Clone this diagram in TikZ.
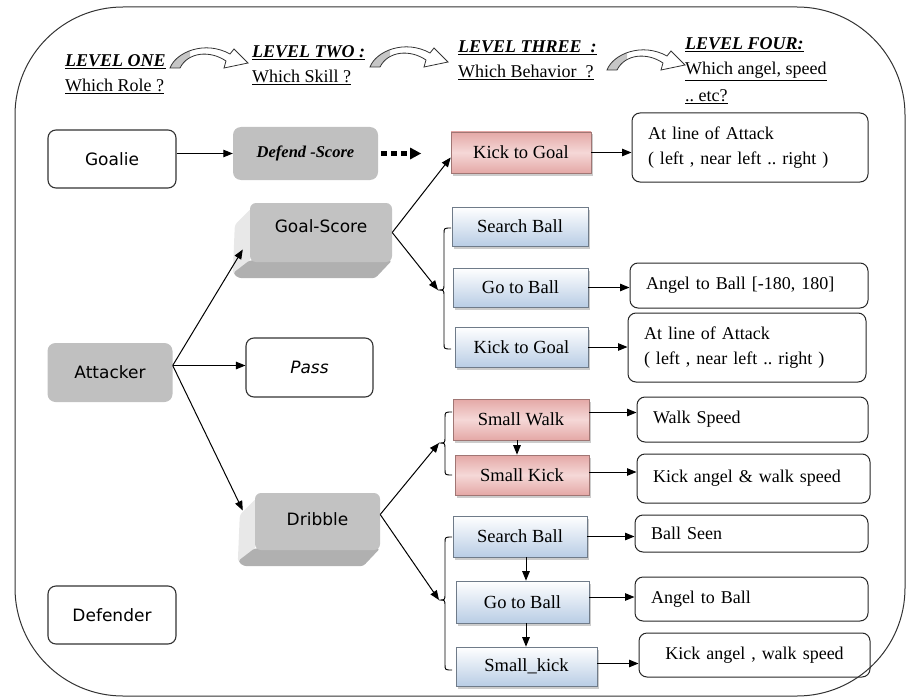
\documentclass[tikz,border=0pt]{standalone}
\usepackage{fontspec}
\setmainfont{Liberation Serif}
\newfontfamily\sansf{DejaVu Sans}
\usetikzlibrary{arrows.meta,shadows,calc}
\pgfdeclarelayer{bg}
\pgfsetlayers{bg,main}
\definecolor{boxgrey}{HTML}{C0C0C0}
\definecolor{blueb}{HTML}{B9CDE5}
\definecolor{redb}{HTML}{E4A8A6}
\definecolor{redm}{HTML}{F5D8D7}
\definecolor{framec}{HTML}{333333}
\newcommand\depthfaces[1]{%
\begin{pgfonlayer}{bg}
 \fill[gray!18, rounded corners=3pt] ($(#1.north west)+(2,5)$) -- ($(#1.north west)+(-15,22)$) -- ($(#1.south west)+(-17,12)$) -- ($(#1.south west)+(0,0)$) -- cycle;
 \fill[gray!62, rounded corners=3pt] ($(#1.south west)+(0,-2)$) -- ($(#1.south east)+(0,-2)$) -- ($(#1.south east)+(-17,16)$) -- ($(#1.south west)+(-11,16)$) -- ($(#1.south west)+(-17,11)$) -- cycle;
\end{pgfonlayer}}
\newcommand\brc[5]{%
 \draw[line width=0.9pt] (#2+7,#3) .. controls (#2,#3) .. (#2,#3+6) -- (#2,#4-6) .. controls (#2,#4) .. (#2-6,#4) coordinate (#1) .. controls (#2,#4) .. (#2,#4+6) -- (#2,#5-6) .. controls (#2,#5) .. (#2+7,#5);}
\tikzset{
 arr/.style={-{Triangle[length=9.5pt,width=7.5pt]}, line width=1pt},
 rolebox/.style={draw=black!80, line width=1.1pt, rounded corners=8pt, minimum width=128pt, minimum height=58pt, font=\sansf\fontsize{17}{20}\selectfont, inner sep=0pt},
 greybox/.style={fill=boxgrey, rounded corners=8pt, inner sep=0pt},
 l3/.style={minimum height=40pt, inner sep=0pt, font=\fontsize{18.5}{22}\selectfont, line width=0.6pt, drop shadow={shadow xshift=1.5pt, shadow yshift=-2.5pt, fill=black!40}},
 l3b/.style={l3, draw=blueb!60!black, top color=white, bottom color=blueb},
 l3r/.style={l3, draw=redb!70!black, top color=redb, bottom color=redb, middle color=redm},
 l4/.style={draw=black!85, line width=1pt, rounded corners=8pt, inner xsep=16pt, inner ysep=0pt, align=left, font=\fontsize{18}{25}\selectfont},
 hd/.style={anchor=base west, inner sep=0pt, font=\fontsize{18}{22}\selectfont\bfseries\itshape},
 hq/.style={anchor=base west, inner sep=0pt, font=\fontsize{18}{22}\selectfont},
 curvarrow/.pic={
  \begin{scope}
   \clip (-3,0) rectangle (20,30);
   \fill[gray!45] (0,22) .. controls (6,6) and (35,-6) .. (60,8) -- (56,15) .. controls (40,4) and (18,6) .. (10,22) -- cycle;
  \end{scope}
  \draw[line width=0.8pt, black!80] (0,22) .. controls (6,6) and (35,-6) .. (60,8) -- (64,3) -- (78,17) -- (54,22) -- (56,15) .. controls (40,4) and (18,6) .. (10,22) -- cycle;
 }
}
\begin{document}
\begin{tikzpicture}[x=1pt,y=-1pt]
\useasboundingbox (0,0) rectangle (907,698);
\draw[framec, line width=1pt, rounded corners=108pt] (15,7) rectangle (905,696);

% headers
\node[hd] (h1) at (65,67) {\underline{LEVEL ONE}};
\node[hq] (q1) at (65,92) {\underline{Which Role ?}};
\node[hd] (h2) at (252,58) {\underline{LEVEL TWO :}};
\node[hq] (q2) at (252,83) {\underline{Which Skill ?}};
\node[hd] (h3) at (458,53) {\underline{LEVEL THREE\ \ :}};
\node[hq] (q3) at (458,78) {\underline{Which Behavior\ \ ?}};
\node[hd] (h4) at (685,50) {\underline{LEVEL FOUR:}};
\node[hq] (q4) at (685,75) {\underline{Which angel, speed}};
\node[hq] (q5) at (685,102) {\underline{..\ etc?}};
\pic at (170,46) {curvarrow};
\pic at (370,45) {curvarrow};
\pic at (607,48) {curvarrow};

% level one
\node[rolebox] (goalie) at (112,159) {Goalie};
\node[greybox, minimum width=125pt, minimum height=59pt, font=\sansf\fontsize{17}{20}\selectfont] (att) at (110,372.5) {Attacker};
\node[rolebox] (def) at (112,615) {Defender};

% level two
\node[greybox, minimum width=145pt, minimum height=53pt, font=\fontsize{16.5}{20}\selectfont\bfseries\itshape] (ds) at (305.5,153.5) {Defend -Score};
\node[greybox, rounded corners=6pt, fill=gray!48, minimum width=142pt, minimum height=59pt, font=\sansf\fontsize{17}{20}\selectfont] (gs) at (321,232.5) {\raisebox{12pt}{Goal-Score}};
\depthfaces{gs}
\node[rolebox, minimum width=127pt, minimum height=59pt, font=\sansf\itshape\fontsize{17}{20}\selectfont] (pass) at (309.5,367.5) {Pass};
\node[greybox, rounded corners=6pt, fill=gray!48, minimum width=125pt, minimum height=57pt, font=\sansf\fontsize{17}{20}\selectfont] (dr) at (317.5,521.5) {\raisebox{4pt}{Dribble}};
\depthfaces{dr}

% level three
\node[l3r, minimum width=140pt, minimum height=41pt] (ktg1) at (521,152.5) {Kick to Goal};
\node[l3b, minimum width=136pt, minimum height=39pt] (sb1) at (520,226.5) {Search Ball};
\node[l3b, minimum width=135pt, minimum height=39pt] (gb1) at (520.5,287.5) {Go to Ball};
\node[l3b, minimum width=133pt, minimum height=40pt] (ktg2) at (521.5,347) {Kick to Goal};
\node[l3r, minimum width=136pt, minimum height=41pt] (sw) at (521,419.5) {Small Walk};
\node[l3r, minimum width=134pt, minimum height=40pt] (sk) at (522,475) {Small Kick};
\node[l3b, minimum width=134pt, minimum height=41pt] (sb2) at (520,536.5) {Search Ball};
\node[l3b, minimum width=133pt, minimum height=42pt] (gb2) at (522.5,602) {Go to Ball};
\node[l3b, minimum width=141pt, minimum height=39pt] (smk) at (526.5,666.5) {Small\_kick};

% level four
\node[l4, text width=204pt, minimum height=69pt] (al1) at (750,147.5) {At line of Attack\\( left , near left ..\ right )};
\node[l4, text width=206pt, minimum height=45pt] (atb1) at (749,285.5) {Angel to Ball [-180, 180]};
\node[l4, text width=206pt, minimum height=69pt] (al2) at (747,347.5) {At line of Attack\\( left , near left ..\ right )};
\node[l4, text width=199pt, minimum height=45pt] (ws) at (752.5,419.5) {Walk Speed};
\node[l4, text width=201pt, minimum height=49pt] (kaw) at (753.5,478.5) {Kick angel \& walk speed};
\node[l4, text width=201pt, minimum height=37pt] (bs) at (751.5,533.5) {Ball Seen};
\node[l4, text width=201pt, minimum height=44pt] (atb2) at (751.5,599) {Angel to Ball};
\node[l4, text width=199pt, minimum height=44pt, align=center] (kaw2) at (754.5,655) {Kick angel , walk speed};

% braces
\brc{br1}{444}{228}{290}{349}
\brc{br2}{445}{412}{443}{475}
\brc{br3}{445}{537}{600}{670}

% connectors
\draw[arr] (goalie.east |- ds.west) -- (ds.west);
\coordinate (dotend) at (421,153.5);
\draw[line width=5pt, dash pattern=on 6pt off 4pt] ([xshift=3pt]ds.east) -- (411,153.5);
\fill (410,147.5) -- (dotend) -- (410,159.5) -- cycle;
\coordinate (as) at ([yshift=7pt]att.east);
\draw[arr] (as) -- ($(gs.west)+(-7,17)$);
\draw[arr] (as) -- (as -| pass.west);
\draw[arr] (as) -- ($(dr.west)+(-12,-11)$);
\draw[arr] (gs.east) -- ([yshift=-5pt]ktg1.west);
\draw[arr] (gs.east) -- (br1);
\draw[arr] ([yshift=7pt]dr.east) -- (br2);
\draw[arr] ([yshift=7pt]dr.east) -- (br3);
\draw[arr] (ktg1.east) -- (ktg1.east -| al1.west);
\draw[arr] (gb1.east) -- (gb1.east -| atb1.west);
\draw[arr] (ktg2.east) -- (ktg2.east -| al2.west);
\draw[arr] ([yshift=7pt]sw.east) -- ([yshift=7pt]sw.east -| ws.west);
\draw[arr] ([yshift=3pt]sk.east) -- ([yshift=3pt]sk.east -| kaw.west);
\draw[arr] (sb2.east) -- (sb2.east -| bs.west);
\draw[arr] ([yshift=5pt]gb2.east) -- ([yshift=5pt]gb2.east -| atb2.west);
\draw[arr] ([yshift=3pt]smk.east) -- ([yshift=3pt]smk.east -| kaw2.west);
\draw[arr] ([xshift=-4pt]sw.south) -- ([xshift=-4pt]sw.south |- sk.north);
\draw[arr] ([xshift=6pt]sb2.south) -- ([xshift=6pt]sb2.south |- gb2.north);
\draw[arr] ([xshift=3.5pt]gb2.south) -- ([xshift=3.5pt]gb2.south |- smk.north);
\end{tikzpicture}
\end{document}
